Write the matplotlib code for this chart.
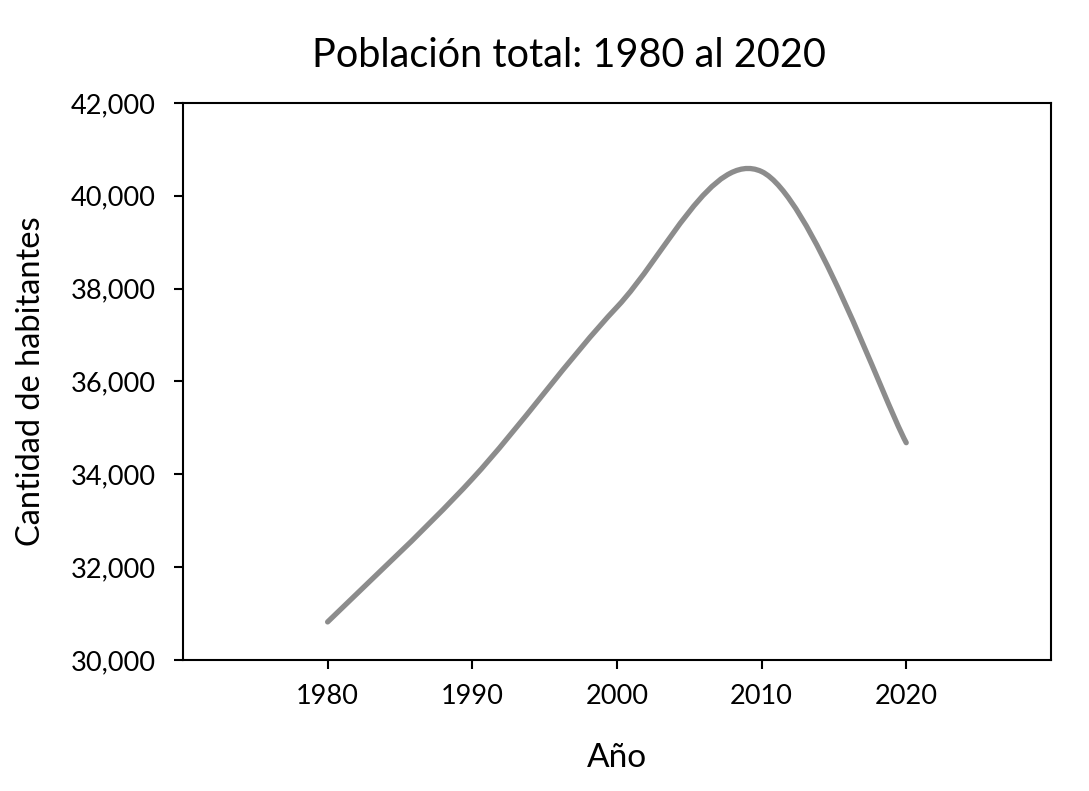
import numpy as np
import matplotlib
matplotlib.use('Agg')
import matplotlib.pyplot as plt
from matplotlib.path import Path
from matplotlib.patches import PathPatch
from matplotlib.ticker import FuncFormatter

plt.rcParams['font.family'] = ['Lato', 'DejaVu Sans']

# datos
anios = [1980, 1990, 2000, 2010, 2020]
poblacion = [30820, 33900, 37600, 40520, 34680]

x = np.array(anios, dtype=float)
y = np.array(poblacion, dtype=float)

fig = plt.figure(figsize=(10.89, 7.91), dpi=100)
ax = fig.add_axes([0.168, 0.1656, 0.797, 0.7044])

# linea suavizada (estilo Excel) con curvas de Bezier entre los puntos
verts = [(x[0], y[0])]
codes = [Path.MOVETO]
n = len(x)
for i in range(n - 1):
    x0, y0 = x[max(i - 1, 0)], y[max(i - 1, 0)]
    x1, y1 = x[i], y[i]
    x2, y2 = x[i + 1], y[i + 1]
    x3, y3 = x[min(i + 2, n - 1)], y[min(i + 2, n - 1)]
    c1 = (x1 + (x2 - x0) / 6, y1 + (y2 - y0) / 6)
    c2 = (x2 - (x3 - x1) / 6, y2 - (y3 - y1) / 6)
    verts += [c1, c2, (x2, y2)]
    codes += [Path.CURVE4] * 3
curva = PathPatch(Path(verts, codes), facecolor='none', edgecolor='#8c8c8c',
                  lw=3.8, capstyle='round', joinstyle='round')
ax.add_patch(curva)

ax.set_xlim(1970, 2030)
ax.set_ylim(30000, 42000)
ax.set_xticks(anios)
ax.set_yticks(range(30000, 42001, 2000))
ax.yaxis.set_major_formatter(FuncFormatter(lambda v, p: f'{int(v):,}'))

for s in ax.spines.values():
    s.set_linewidth(1.5)
    s.set_color('black')
ax.tick_params(axis='both', direction='out', length=6.5, width=1.5,
               labelsize=19.5)
ax.tick_params(axis='x', pad=11)
ax.tick_params(axis='y', pad=13)

fig.text(0.5225, 0.915, 'Población total: 1980 al 2020', fontsize=28.5,
         ha='center', va='baseline')
ax.set_xlabel('Año', fontsize=24, labelpad=24)
ax.set_ylabel('Cantidad de habitantes', fontsize=23.5, labelpad=18)

fig.savefig('out.png', dpi=100)
